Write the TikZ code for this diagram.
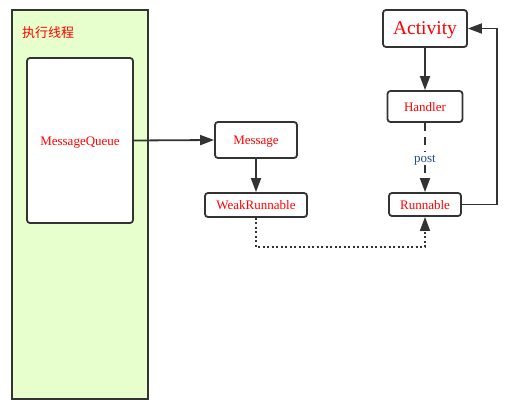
\documentclass[tikz,border=0pt]{standalone}
\usepackage{fontspec}
\setmainfont{Liberation Serif}
\newfontfamily\cjk{Noto Sans CJK SC}
\usetikzlibrary{arrows.meta}
\definecolor{dk}{HTML}{333333}
\definecolor{lgreen}{HTML}{E6FFCC}
\definecolor{postblue}{HTML}{1F4E8C}
\tikzset{
  box/.style={draw=dk, line width=1.8pt, rounded corners=3pt, fill=white, text=red, inner sep=0pt, font=\fontsize{13}{15}\selectfont, text height=9pt, text depth=-2pt},
  conn/.style={draw=dk, line width=1.8pt, -{Triangle[length=14pt,width=10pt]}},
}
\begin{document}
\begin{tikzpicture}[x=1pt,y=-1pt]
\useasboundingbox (0,0) rectangle (511,412);
\draw[draw=dk, line width=1.8pt, fill=lgreen] (12,10) rectangle (148,399);
\node[text=red, font=\cjk\fontsize{13}{15}\selectfont] (thr) at (48,33) {执行线程};
\node[box, minimum width=106pt, minimum height=165pt] (mq) at (80,140.5) {MessageQueue};
\node[box, minimum width=82pt, minimum height=36pt] (msg) at (256,140) {Message};
\node[box, minimum width=102pt, minimum height=24pt] (wr) at (256,205) {WeakRunnable};
\node[box, minimum width=84pt, minimum height=37pt, font=\fontsize{19.5}{22}\selectfont, text height=13pt, text depth=-4pt] (act) at (425,28.5) {Activity};
\node[box, minimum width=75pt, minimum height=31pt] (hd) at (425,106.5) {Handler};
\node[box, minimum width=72pt, minimum height=23pt] (rn) at (425,204.5) {Runnable};
\draw[conn] (mq.east) -- (msg.west);
\draw[conn] (msg.south) -- (wr.north);
\draw[conn] (act.south) -- (hd.north);
\draw[conn, dash pattern=on 8pt off 6pt] (hd.south) -- node[fill=white, text=postblue, inner sep=1pt, font=\fontsize{13}{15}\selectfont, text height=9pt, text depth=-2pt] (post) {post} (rn.north);
\draw[conn] (rn.east) -- (497,204.5) |- (act.east);
\draw[conn, dash pattern=on 2pt off 2.5pt, line width=1.6pt] (wr.south) -- (256,247) -| (rn.south);
\end{tikzpicture}
\end{document}
